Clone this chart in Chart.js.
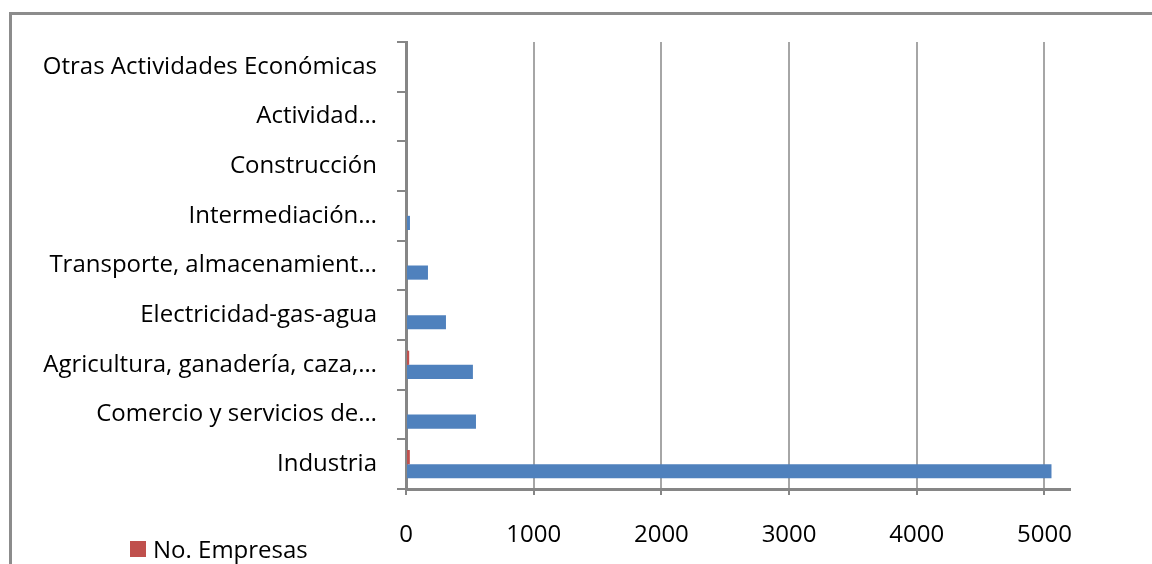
<!DOCTYPE html>
<html>
<head>
<meta charset="utf-8">
<script src="https://cdn.jsdelivr.net/npm/chart.js@4.4.1/dist/chart.umd.min.js"></script>
<style>
  html, body { margin: 0; padding: 0; background: #fff; }
  #wrap { position: relative; width: 1152px; height: 564px; overflow: hidden; }
  #frame { position: absolute; left: 9px; top: 12px; width: 1200px; height: 600px; border: 3px solid #8c8c8c; box-sizing: border-box; }
  #legend { position: absolute; left: 130px; top: 532px; font-family: "Open Sans", sans-serif; font-size: 24px; color: #000; display: flex; align-items: center; }
  #legend span.box { display: inline-block; width: 16px; height: 16px; background: #c0504d; margin-right: 7px; }
  canvas { position: absolute; left: 0; top: 0; }
</style>
</head>
<body>
<div id="wrap">
  <div id="frame"></div>
  <canvas id="chart" width="1152" height="564"></canvas>
  <div id="legend"><span class="box"></span>No. Empresas</div>
</div>
<script>
const categories = [
  'Otras Actividades Económicas',
  'Actividad…',
  'Construcción',
  'Intermediación…',
  'Transporte, almacenamient…',
  'Electricidad-gas-agua',
  'Agricultura, ganadería, caza,…',
  'Comercio y servicios de…',
  'Industria'
];
const empresas = [0, 0, 0, 0, 0, 0, 25, 0, 30];
const empleos = [0, 0, 0, 31, 172, 313, 524, 548, 5055];
const xTicks = [0, 1000, 2000, 3000, 4000, 5000];

const axisGray = '#868686';
const gridGray = '#a6a6a6';
const font = { family: "'Open Sans', sans-serif", size: 24 };

new Chart(document.getElementById('chart'), {
  type: 'bar',
  data: {
    labels: categories,
    datasets: [
      { label: 'No. Empresas', data: empresas, backgroundColor: '#c0504d', barPercentage: 1, categoryPercentage: 0.57 },
      { label: 'No. Empleos', data: empleos, backgroundColor: '#4f81bd', barPercentage: 1, categoryPercentage: 0.57 }
    ]
  },
  options: {
    indexAxis: 'y',
    responsive: false,
    animation: false,
    layout: { padding: { top: 42, right: 82, left: 0, bottom: 0 } },
    plugins: { legend: { display: false }, tooltip: { enabled: false } },
    scales: {
      x: {
        min: 0,
        max: 5200,
        afterBuildTicks: (scale) => { scale.ticks = xTicks.map(v => ({ value: v })); },
        afterFit: (scale) => { scale.height = 75; },
        grid: { color: gridGray, lineWidth: 2, tickLength: 6, tickColor: axisGray },
        border: { color: axisGray, width: 3 },
        ticks: { color: '#000', font, padding: 26, maxRotation: 0, callback: (v) => String(v) }
      },
      y: {
        afterFit: (scale) => { scale.width = 406; },
        grid: { drawOnChartArea: false, tickLength: 9, tickColor: axisGray, lineWidth: 2 },
        border: { color: axisGray, width: 3 },
        ticks: { color: '#000', font, padding: 20, autoSkip: false }
      }
    }
  }
});
</script>
</body>
</html>
